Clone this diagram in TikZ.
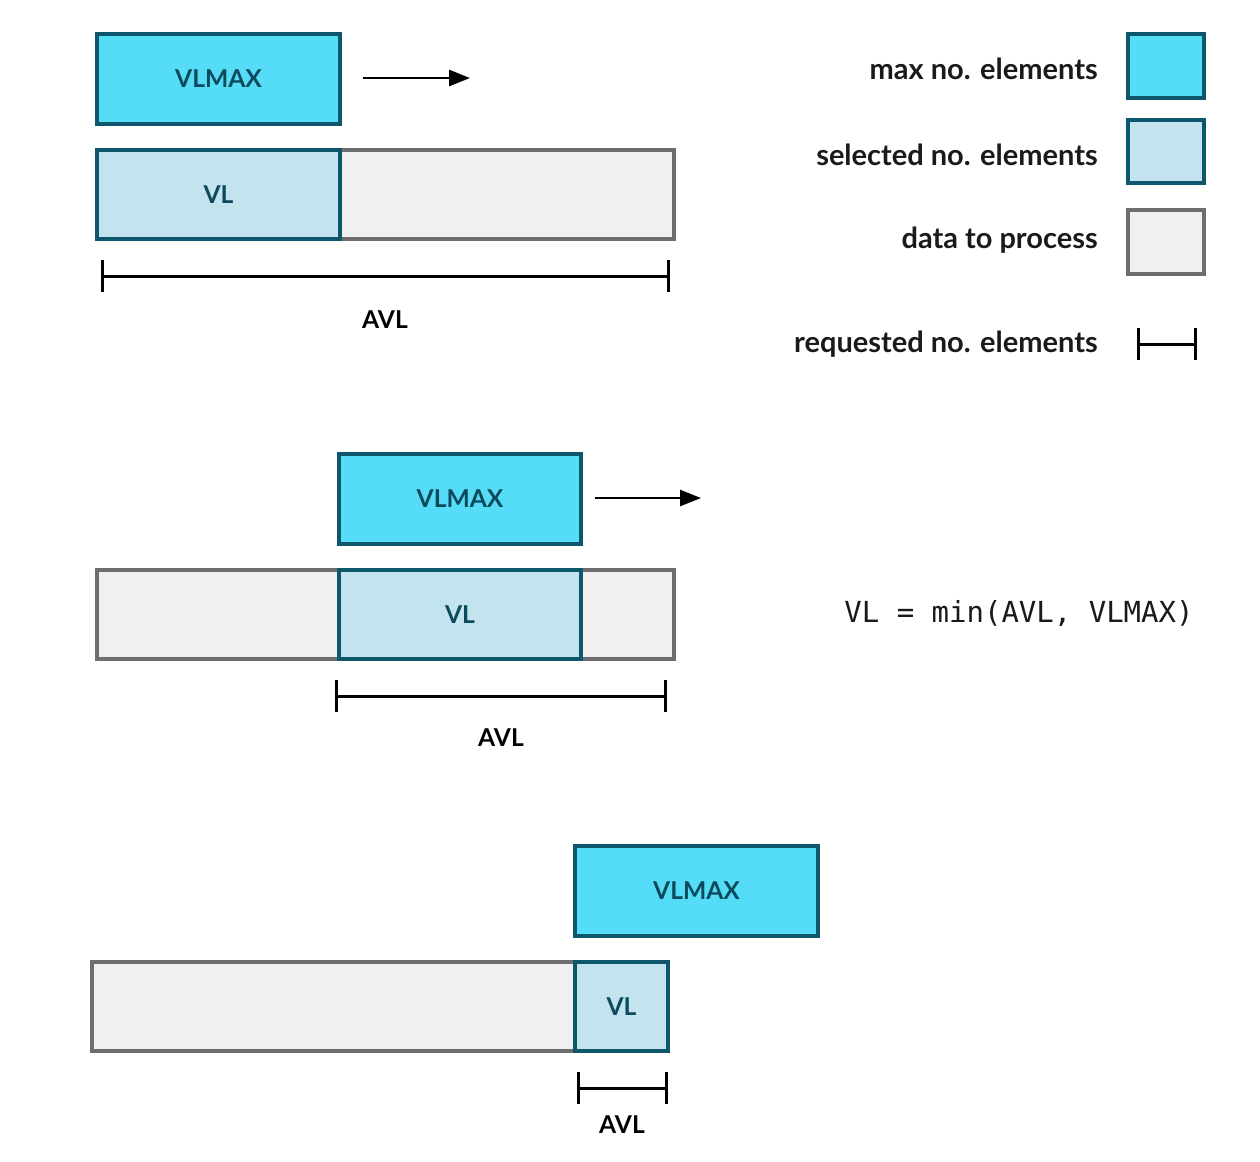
\documentclass[tikz,border=0pt]{standalone}
\usepackage{fontspec}
\setmainfont{Lato}
\setmonofont{DejaVu Sans Mono}
\usetikzlibrary{arrows.meta}
\definecolor{maxfill}{HTML}{55DDF8}
\definecolor{selfill}{HTML}{C3E4EE}
\definecolor{boxedge}{HTML}{0E566B}
\definecolor{grayfill}{HTML}{F0F0F0}
\definecolor{grayedge}{HTML}{6E6E6E}
\definecolor{labtext}{HTML}{0B4A5C}
\definecolor{legtext}{HTML}{1A1A1A}
\tikzset{
  box/.style={draw, line width=1.8pt, inner sep=0pt, font=\fontsize{14}{16}\selectfont\bfseries, text=labtext},
  maxbox/.style={box, draw=boxedge, fill=maxfill},
  selbox/.style={box, draw=boxedge, fill=selfill},
  databox/.style={box, draw=grayedge, fill=grayfill},
  avl/.style={line width=1.7pt, {Bar[width=0.64cm]}-{Bar[width=0.64cm]}},
  moveArrow/.style={line width=1.5pt, -{Triangle[length=0.42cm, width=0.32cm]}},
  avltext/.style={font=\fontsize{14}{16}\selectfont\bfseries, text=black},
  legend/.style={anchor=east, inner sep=0pt, font=\fontsize{16.5}{19}\selectfont\bfseries, text=legtext},
}
\begin{document}
\begin{tikzpicture}[x=0.02cm, y=-0.02cm]
\useasboundingbox (0,0) rectangle (1260,1161);
% ---------- Panel 1
\node[databox, minimum width=11.54cm, minimum height=1.78cm] (d1) at (385.5,194.5) {};
\node[selbox, minimum width=4.86cm, minimum height=1.78cm] (vl1) at (218.5,194.5) {VL};
\node[maxbox, minimum width=4.86cm, minimum height=1.8cm] (m1) at (218.5,79) {VLMAX};
\coordinate (a1s) at (363,78); \coordinate (a1e) at (470,78);
\draw[moveArrow] (a1s) -- (a1e);
\coordinate (b1l) at (101,276); \coordinate (b1r) at (670,276);
\draw[avl] (b1l) -- (b1r);
\node[avltext] (t1) at (385,320) {AVL};
% ---------- Legend
\node[maxbox, minimum width=1.52cm, minimum height=1.28cm] (lg1) at (1166,66) {};
\node[selbox, minimum width=1.52cm, minimum height=1.26cm] (lg2) at (1166,151.5) {};
\node[databox, minimum width=1.52cm, minimum height=1.28cm] (lg3) at (1166,242) {};
\coordinate (lg4l) at (1137,344); \coordinate (lg4r) at (1197,344);
\draw[avl] (lg4l) -- (lg4r);
\node[legend] (lt1) at (1098,69) {max no. elements};
\node[legend] (lt2) at (1098,155) {selected no. elements};
\node[legend] (lt3) at (1098,240) {data to process};
\node[legend] (lt4) at (1098,344) {requested no. elements};
% ---------- Panel 2
\node[databox, minimum width=11.54cm, minimum height=1.78cm] (d2) at (385.5,614.5) {};
\node[selbox, minimum width=4.84cm, minimum height=1.78cm] (vl2) at (460,614.5) {VL};
\node[maxbox, minimum width=4.84cm, minimum height=1.8cm] (m2) at (460,499) {VLMAX};
\coordinate (a2s) at (595,498); \coordinate (a2e) at (701,498);
\draw[moveArrow] (a2s) -- (a2e);
\coordinate (b2l) at (335,696); \coordinate (b2r) at (667,696);
\draw[avl] (b2l) -- (b2r);
\node[avltext] (t2) at (501,738) {AVL};
\node[font=\fontsize{16.5}{20}\selectfont\ttfamily, text=legtext] (formula) at (1019,613) {VL = min(AVL, VLMAX)};
% ---------- Panel 3
\node[databox, minimum width=11.52cm, minimum height=1.78cm] (d3) at (380,1006.5) {};
\node[selbox, minimum width=1.86cm, minimum height=1.78cm] (vl3) at (621.5,1006.5) {VL};
\node[maxbox, minimum width=4.86cm, minimum height=1.8cm] (m3) at (696.5,891) {VLMAX};
\coordinate (b3l) at (577,1088); \coordinate (b3r) at (668,1088);
\draw[avl] (b3l) -- (b3r);
\node[avltext] (t3) at (622,1125) {AVL};
\end{tikzpicture}
\end{document}
